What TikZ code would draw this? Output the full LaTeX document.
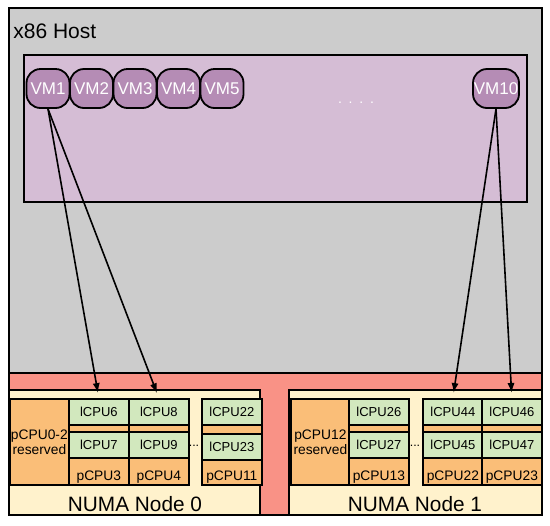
\documentclass[tikz,border=0pt]{standalone}
\usepackage{fontspec}
\setmainfont{Liberation Sans}
\usetikzlibrary{arrows.meta}
\definecolor{hostgray}{RGB}{204,204,204}
\definecolor{vmarea}{RGB}{213,189,213}
\definecolor{vmfill}{RGB}{181,140,181}
\definecolor{busred}{RGB}{249,146,134}
\definecolor{numayellow}{RGB}{255,242,204}
\definecolor{cpuorange}{RGB}{250,190,120}
\definecolor{cpugreen}{RGB}{210,232,190}
\begin{document}
\begin{tikzpicture}[x=0.5pt, y=-0.5pt,
    box/.style={draw, line width=0.85pt, inner sep=0pt, anchor=north west},
    vm/.style={draw, line width=0.9pt, fill=vmfill, rounded corners=7pt, inner sep=0pt,
               minimum width=21.5pt, minimum height=19.5pt, text=white,
               font=\fontsize{8.5}{10}\selectfont},
    lcpu/.style={box, fill=cpugreen, minimum width=30pt, minimum height=13pt,
                 font=\fontsize{6.5}{7}\selectfont},
    pcpu/.style={box, fill=cpuorange, minimum width=30pt, minimum height=43pt},
    plabel/.style={font=\fontsize{6.9}{7}\selectfont, anchor=south, inner sep=1pt},
    resv/.style={box, fill=cpuorange, minimum width=29.5pt, minimum height=43pt,
                 align=center, font=\fontsize{6.9}{7.6}\selectfont},
    pin/.style={-{Latex[length=5pt,width=3.6pt]}, line width=0.8pt, shorten >=2.5pt}]
    \useasboundingbox (0,0) rectangle (550,525);

    % Host
    \filldraw[fill=hostgray, line width=1pt] (9,8) rectangle (542,373);
    \node[anchor=west, inner sep=0pt, font=\fontsize{10.5}{12}\selectfont] (host) at (13,31) {x86 Host};

    % Guest area
    \filldraw[fill=vmarea, line width=0.9pt] (24,55) rectangle (527,202);
    \node[vm] (vm1) at (48,88.5) {VM1};
    \node[vm] (vm2) at (91.5,88.5) {VM2};
    \node[vm] (vm3) at (135,88.5) {VM3};
    \node[vm] (vm4) at (178.5,88.5) {VM4};
    \node[vm] (vm5) at (222,88.5) {VM5};
    \node[vm, minimum width=23pt] (vm10) at (496,88.5) {VM10};
    \node[anchor=base, text=white, font=\fontsize{7}{8}\selectfont] (vmdots) at (356,103)
        {.\hspace{3.4pt}.\hspace{3.4pt}.\hspace{3.4pt}.};

    % Interconnect and NUMA nodes
    \filldraw[fill=busred, line width=0.9pt] (9,373) rectangle (542,515);
    \filldraw[fill=numayellow, line width=0.9pt] (9,390) rectangle (260,515);
    \filldraw[fill=numayellow, line width=0.9pt] (289,390) rectangle (542,515);
    \node[font=\fontsize{10.4}{12}\selectfont] (numa0) at (135,504) {NUMA Node 0};
    \node[font=\fontsize{10.4}{12}\selectfont] (numa1) at (415,504) {NUMA Node 1};

    % NUMA Node 0
    \node[resv] (res0) at (9,398) {pCPU0-2\\reserved};
    \node[pcpu, label={[plabel]south:pCPU3}] (p3) at (68,398) {};
    \node[lcpu] (l6) at (68,398) {lCPU6};
    \node[lcpu] (l7) at (68,431) {lCPU7};
    \node[pcpu, label={[plabel]south:pCPU4}] (p4) at (128,398) {};
    \node[lcpu] (l8) at (128,398) {lCPU8};
    \node[lcpu] (l9) at (128,431) {lCPU9};
    \node[font=\fontsize{6.2}{7}\selectfont, anchor=base] (dots0) at (194,446) {...};
    \node[pcpu, label={[plabel]south:pCPU11}] (p11) at (201,398) {};
    \node[lcpu] (l22) at (201,398) {lCPU22};
    \node[lcpu] (l23) at (201,433) {lCPU23};

    % NUMA Node 1
    \node[resv] (res1) at (290,398) {pCPU12\\reserved};
    \node[pcpu, label={[plabel]south:pCPU13}] (p13) at (348,398) {};
    \node[lcpu] (l26) at (348,398) {lCPU26};
    \node[lcpu] (l27) at (348,431) {lCPU27};
    \node[font=\fontsize{6.2}{7}\selectfont, anchor=base] (dots1) at (415,446) {...};
    \node[pcpu, label={[plabel]south:pCPU22}] (p22) at (422,398) {};
    \node[lcpu] (l44) at (422,398) {lCPU44};
    \node[lcpu] (l45) at (422,431) {lCPU45};
    \node[pcpu, label={[plabel]south:pCPU23}] (p23) at (481,398) {};
    \node[lcpu] (l46) at (481,398) {lCPU46};
    \node[lcpu] (l47) at (481,431) {lCPU47};

    % Pinning
    \draw[pin] (vm1.south) -- (l6.north);
    \draw[pin] (vm1.south) -- (l8.north);
    \draw[pin] (vm10.south) -- (l44.north);
    \draw[pin] (vm10.south) -- (l46.north);
\end{tikzpicture}
\end{document}
